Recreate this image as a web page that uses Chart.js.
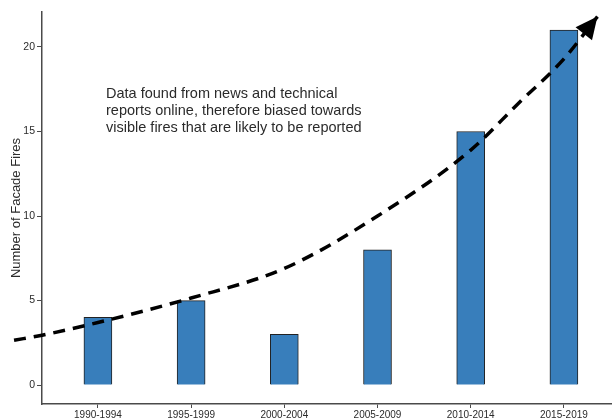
<!DOCTYPE html>
<html>
<head>
<meta charset="utf-8">
<script src="https://cdn.jsdelivr.net/npm/chart.js@4"></script>
<style>
  html, body { margin: 0; padding: 0; background: #fff; overflow: hidden; }
  #wrap { width: 612px; height: 420px; }
</style>
</head>
<body>
<div id="wrap"><canvas id="myChart" width="612" height="420"></canvas></div>
<script>
// periods and counts of facade fires
let periods = ['1990-1994', '1995-1999', '2000-2004', '2005-2009', '2010-2014', '2015-2019'];
let fireCounts = [4, 5, 3, 8, 15, 21];

// hand drawn trend arrow (x in category units, 1 = first period)
let trendX = [0.1, 0.4, 1.0, 2.0, 3.0, 4.0, 5.0, 5.5, 6.0, 6.36];
let trendY = [2.65, 2.95, 3.7, 5.15, 6.9, 10.0, 13.9, 16.6, 19.3, 21.8];

let yTicks = [0, 5, 10, 15, 20];
let noteLines = [
    'Data found from news and technical',
    'reports online, therefore biased towards',
    'visible fires that are likely to be reported'
];

let ctx = document.getElementById('myChart').getContext('2d');
let axisColor = '#4a4a4a';
let textColor = '#2b2b2b';
let fontFamily = '"Liberation Sans", Arial, sans-serif';

// arrow head on the end of the trend line + the note text
let extras = {
    id: 'extras',
    afterDatasetsDraw(chart) {
        let c = chart.ctx;
        let xs = chart.scales.x, ys = chart.scales.y;
        let n = trendX.length;
        let tx = xs.getPixelForValue(trendX[n - 1]), ty = ys.getPixelForValue(trendY[n - 1]);
        let px = xs.getPixelForValue(trendX[n - 2]), py = ys.getPixelForValue(trendY[n - 2]);
        let ang = Math.atan2(ty - py, tx - px);
        let len = 22, half = 10.5;
        c.save();
        c.fillStyle = '#000';
        c.beginPath();
        c.moveTo(tx, ty);
        c.lineTo(tx - len * Math.cos(ang) + half * Math.sin(ang), ty - len * Math.sin(ang) - half * Math.cos(ang));
        c.lineTo(tx - len * Math.cos(ang) - half * Math.sin(ang), ty - len * Math.sin(ang) + half * Math.cos(ang));
        c.closePath();
        c.fill();

        c.fillStyle = textColor;
        c.font = '14.5px ' + fontFamily;
        c.textAlign = 'left';
        c.textBaseline = 'alphabetic';
        let nx = xs.getPixelForValue(1.087);
        let ny = ys.getPixelForValue(17.0);
        noteLines.forEach((line, i) => {
            c.fillText(line, nx, ny + i * 17);
        });
        c.restore();
    }
};

let myChart = new Chart(ctx, {
    type: 'bar',
    data: {
        datasets: [
            {
                type: 'line',
                data: trendX.map((x, i) => ({ x: x, y: trendY[i] })),
                borderColor: '#000',
                borderWidth: 3.5,
                borderDash: [12, 8],
                pointRadius: 0,
                tension: 0.4,
                cubicInterpolationMode: 'monotone',
                clip: false,
                order: 0
            },
            {
                type: 'bar',
                data: fireCounts.map((v, i) => ({ x: i + 1, y: v })),
                backgroundColor: '#387ebb',
                borderColor: '#222',
                borderWidth: 1,
                barThickness: 28,
                order: 1
            }
        ]
    },
    options: {
        responsive: false,
        animation: false,
        layout: { padding: { top: 12, right: 0, left: 0, bottom: 0 } },
        plugins: { legend: { display: false }, tooltip: { enabled: false } },
        scales: {
            x: {
                type: 'linear',
                min: 0.4,
                max: 6.516,
                offset: false,
                afterBuildTicks: (s) => { s.ticks = periods.map((p, i) => ({ value: i + 1 })); },
                afterFit: (s) => { s.height = 16; },
                ticks: {
                    callback: (v) => periods[v - 1],
                    color: textColor,
                    font: { family: fontFamily, size: 10 },
                    padding: 1,
                    maxRotation: 0,
                    autoSkip: false
                },
                grid: { offset: false, drawOnChartArea: false, drawTicks: true, tickLength: 4, color: axisColor, lineWidth: 1 },
                border: { display: true, color: axisColor, width: 1.5 }
            },
            y: {
                type: 'linear',
                min: -1.12,
                max: 22.07,
                afterBuildTicks: (s) => { s.ticks = yTicks.map(v => ({ value: v })); },
                afterFit: (s) => { s.width = 42; },
                ticks: {
                    color: textColor,
                    font: { family: fontFamily, size: 10.5 },
                    padding: 2
                },
                grid: { drawOnChartArea: false, drawTicks: true, tickLength: 5, color: axisColor, lineWidth: 1 },
                border: { display: true, color: axisColor, width: 1.5 },
                title: {
                    display: true,
                    text: 'Number of Facade Fires',
                    color: textColor,
                    font: { family: fontFamily, size: 13 },
                    padding: { top: 9, bottom: 0 }
                }
            }
        }
    },
    plugins: [extras]
});
</script>
</body>
</html>
